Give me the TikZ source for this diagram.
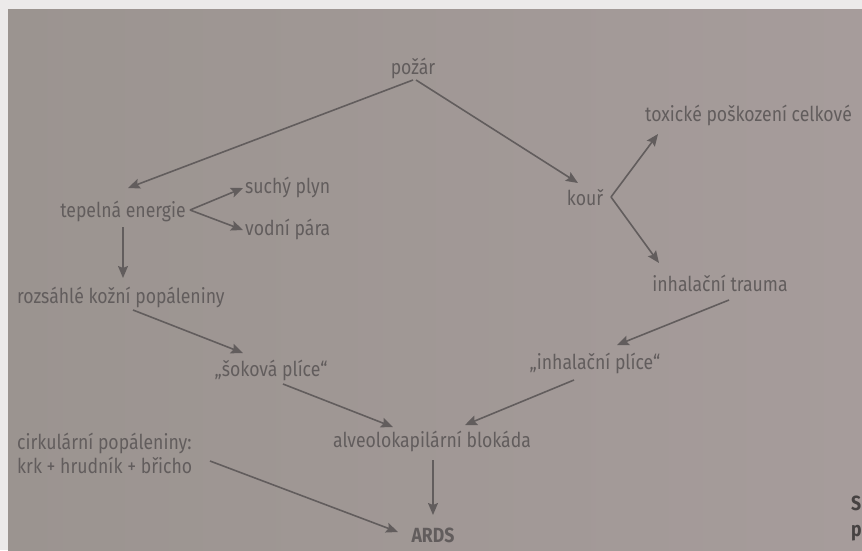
\documentclass[tikz,border=0pt]{standalone}
\usepackage{fontspec}
\setmainfont{Fira Sans}[FakeStretch=0.86]
\usetikzlibrary{arrows.meta}
\definecolor{bgpage}{RGB}{166,156,155}
\definecolor{bgdark}{RGB}{155,148,144}
\definecolor{ink}{RGB}{98,93,93}
\definecolor{inkdark}{RGB}{70,66,66}
\definecolor{paperwhite}{RGB}{236,234,234}
\tikzset{
  lbl/.style={inner sep=0pt, text=ink, font=\fontsize{20.5}{24}\selectfont},
  arr/.style={draw=ink, line width=1.6pt, -{Stealth[length=12pt,width=10pt,inset=2pt]}},
}
\begin{document}
\begin{tikzpicture}[x=1pt,y=-1pt]
\useasboundingbox (0,0) rectangle (862,550);
\fill[paperwhite] (0,0) rectangle (862,550);
\shade[left color=bgdark, right color=bgpage] (8,9) rectangle (862,550);

\node[lbl] (poz) at (413,68) {požár};
\node[lbl] (tep) at (123,211) {tepelná energie};
\node[lbl,anchor=west] (suchy) at (245,187) {suchý plyn};
\node[lbl,anchor=west] (vodni) at (245,229) {vodní pára};
\node[lbl,anchor=west] (rozs) at (17,297) {rozsáhlé kožní popáleniny};
\node[lbl] (sok) at (271,370) {„šoková plíce“};
\node[lbl] (inhp) at (595,363) {„inhalační plíce“};
\node[lbl] (alv) at (432,441) {alveolokapilární blokáda};
\node[lbl,anchor=north west,align=left] (cirk) at (17,433) {cirkulární popáleniny:\\krk + hrudník + břicho};
\node[lbl,font=\fontsize{20.5}{24}\selectfont\bfseries] (ards) at (433,535) {ARDS};
\node[lbl] (kour) at (585,198) {kouř};
\node[lbl,anchor=west] (tox) at (645,115) {toxické poškození celkové};
\node[lbl] (inht) at (720,283) {inhalační trauma};
\node[lbl,anchor=west,text=inkdark,font=\fontsize{20.5}{24}\selectfont\bfseries] (sfrag) at (851,503) {S};
\node[lbl,anchor=west,text=inkdark,font=\fontsize{20.5}{24}\selectfont\bfseries] (pfrag) at (851,533) {p};

% požár
\draw[arr] ([shift={(0,12)}]poz.center) -- ([shift={(5,-23)}]tep.center);
\draw[arr] ([shift={(3,12)}]poz.center) -- ([shift={(-7,-15)}]kour.center);
% tepelná energie fork
\draw[arr] ([shift={(67,-1)}]tep.center) -- ([shift={(-2,1)}]suchy.west);
\draw[arr] ([shift={(67,-1)}]tep.center) -- ([shift={(-2,1)}]vodni.west);
\draw[arr] ([shift={(0,16)}]tep.center) -- ([shift={(106,-19)}]rozs.west);
% left chain
\draw[arr] ([shift={(116,13)}]rozs.west) -- ([shift={(-28,-17)}]sok.center);
\draw[arr] ([shift={(12,14)}]sok.center) -- ([shift={(-39,-14)}]alv.center);
% right chain
\draw[arr] ([shift={(26,-1)}]kour.center) -- ([shift={(13,19)}]tox.west);
\draw[arr] ([shift={(26,-1)}]kour.center) -- ([shift={(-61,-20)}]inht.center);
\draw[arr] ([shift={(9,17)}]inht.center) -- ([shift={(22,-18)}]inhp.center);
\draw[arr] ([shift={(-21,17)}]inhp.center) -- ([shift={(33,-16)}]alv.center);
% to ARDS
\draw[arr] ([shift={(1,19)}]alv.center) -- ([shift={(0,-20)}]ards.center);
\draw[arr] ([shift={(193,28)}]cirk.north west) -- ([shift={(-35,-3)}]ards.center);
\end{tikzpicture}
\end{document}
